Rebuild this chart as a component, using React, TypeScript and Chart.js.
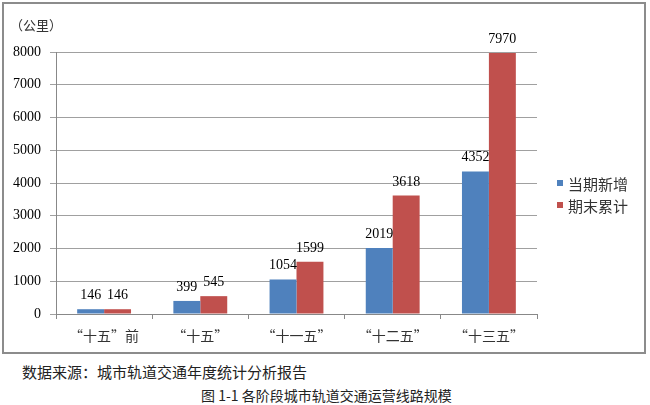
import React, { useEffect, useRef } from "react";
import { Chart, registerables } from "chart.js";

Chart.register(...registerables);

const categories = ["“十五”前", "“十五”", "“十一五”", "“十二五”", "“十三五”"];
const newAdded = [146, 399, 1054, 2019, 4352];
const cumulative = [146, 545, 1599, 3618, 7970];
const seriesNames = ["当期新增", "期末累计"];
const seriesColors = ["#4F81BD", "#C0504D"];
const unitLabel = "（公里）";
const sourceText = "数据来源：城市轨道交通年度统计分析报告";
const captionText = "图 1-1 各阶段城市轨道交通运营线路规模";

const CJK = '"Noto Sans CJK SC", sans-serif';
const SERIF = '"Liberation Serif", "Times New Roman", serif';

const valueLabels = {
  id: "valueLabels",
  afterDatasetsDraw(chart: any) {
    const ctx = chart.ctx;
    ctx.save();
    ctx.font = `14px ${SERIF}`;
    ctx.fillStyle = "#000";
    ctx.textAlign = "center";
    ctx.textBaseline = "alphabetic";
    chart.data.datasets.forEach((ds: any, i: number) => {
      const meta = chart.getDatasetMeta(i);
      meta.data.forEach((el: any, j: number) => {
        ctx.fillText(String(ds.data[j]), el.x, el.y - 10);
      });
    });
    ctx.restore();
  },
};

export default function App() {
  const ref = useRef<HTMLCanvasElement | null>(null);
  useEffect(() => {
    if (!ref.current) return;
    const chart = new Chart(ref.current, {
      type: "bar",
      data: {
        labels: categories,
        datasets: [
          { label: seriesNames[0], data: newAdded, backgroundColor: seriesColors[0], barPercentage: 1, categoryPercentage: 0.56 },
          { label: seriesNames[1], data: cumulative, backgroundColor: seriesColors[1], barPercentage: 1, categoryPercentage: 0.56 },
        ],
      },
      options: {
        responsive: false,
        animation: false,
        devicePixelRatio: 1,
        layout: { autoPadding: false, padding: { top: 52, left: 0, right: 113, bottom: 0 } },
        plugins: { legend: { display: false }, tooltip: { enabled: false } },
        scales: {
          x: {
            grid: { display: true, drawOnChartArea: false, drawTicks: true, tickLength: 5, color: "#888", offset: true },
            border: { display: true, color: "#888" },
            ticks: { font: { family: CJK, size: 14 }, color: "#333", padding: 8, maxRotation: 0 },
            afterFit: (s: any) => { s.height = 38; },
          },
          y: {
            min: 0,
            max: 8000,
            ticks: { stepSize: 1000, font: { family: SERIF, size: 14 }, color: "#000", padding: 9, callback: (v: any) => String(v) },
            grid: { color: "#a0a0a0", tickLength: 6, drawTicks: true },
            border: { display: true, color: "#888" },
            afterFit: (s: any) => { s.width = 56; },
          },
        },
      },
      plugins: [valueLabels],
    });
    return () => chart.destroy();
  }, []);

  return (
    <div style={{ position: "fixed", left: 0, top: 0, width: 650, height: 405, background: "#fff", overflow: "hidden" }}>
      <div style={{ position: "absolute", left: 2, top: 2, width: 640, height: 348, border: "2px solid #8c8c8c" }} />
      <canvas ref={ref} width={650} height={352} style={{ position: "absolute", left: 0, top: 0, width: 650, height: 352 }} />
      <div style={{ position: "absolute", left: 10, top: 16, font: `13px ${CJK}`, color: "#333", lineHeight: "18px" }}>{unitLabel}</div>
      {seriesNames.map((n, i) => (
        <div key={n} style={{ position: "absolute", left: 557, top: 173 + i * 22, height: 20, display: "flex", alignItems: "center", font: `15px ${CJK}`, color: "#333" }}>
          <span style={{ display: "inline-block", width: 6, height: 6, background: seriesColors[i], marginRight: 5 }} />
          <span>{n}</span>
        </div>
      ))}
      <div style={{ position: "absolute", left: 22, top: 362, font: `15px ${CJK}`, color: "#222", lineHeight: "20px", whiteSpace: "nowrap" }}>{sourceText}</div>
      <div style={{ position: "absolute", left: 201, top: 386, font: `14px ${CJK}`, color: "#222", lineHeight: "18px", whiteSpace: "nowrap" }}>{captionText}</div>
    </div>
  );
}
